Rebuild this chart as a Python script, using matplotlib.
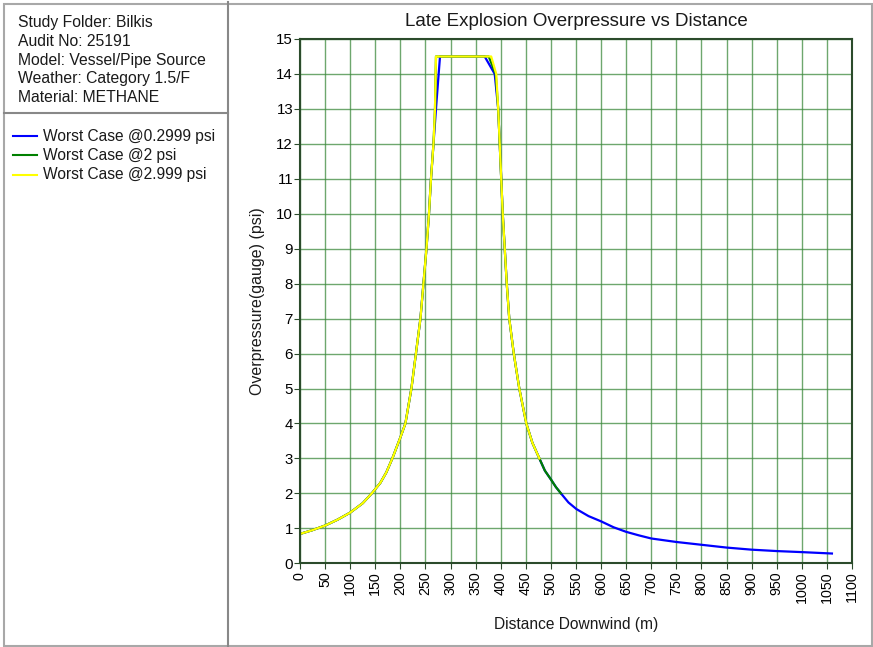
import matplotlib
matplotlib.use("Agg")
import matplotlib.pyplot as plt
from matplotlib.lines import Line2D
from matplotlib.patches import Rectangle

plt.rcParams['font.family'] = ['Liberation Sans', 'DejaVu Sans']

# shared rising flank (m, psi)
rise_x = [0, 25, 50, 75, 100, 125, 143, 160, 172, 184, 200, 210, 222, 231, 240, 246, 252, 257, 261, 266]
rise_y = [0.84, 0.95, 1.08, 1.25, 1.45, 1.72, 2.0, 2.3, 2.6, 3.0, 3.6, 4.0, 5.0, 6.0, 7.0, 8.0, 9.0, 10.0, 11.0, 12.0]

# plateau for each case
top_blue_x = [272, 279, 368, 388]
top_blue_y = [13.2, 14.5, 14.5, 14.0]
top_green_x = [269, 271, 376, 390]
top_green_y = [13.0, 14.5, 14.5, 14.0]
top_yellow_x = [269, 271, 381, 391]
top_yellow_y = [13.0, 14.5, 14.5, 14.0]

# shared falling flank
fall_x = [395, 398, 401, 404, 408, 412, 417, 426, 437, 451, 463, 477]
fall_y = [13.0, 12.0, 11.0, 10.0, 9.0, 8.0, 7.0, 6.0, 5.0, 4.0, 3.45, 3.0]

# tail beyond 3 psi
tail_x = [488, 500, 510, 520, 535, 551, 575, 600, 625, 650, 675, 700, 725, 750, 800, 850, 900, 950, 1000, 1060]
tail_y = [2.65, 2.4, 2.18, 2.0, 1.74, 1.55, 1.35, 1.2, 1.03, 0.9, 0.8, 0.71, 0.66, 0.61, 0.53, 0.45, 0.39, 0.35, 0.32, 0.28]

blue_x = rise_x + top_blue_x + fall_x + tail_x
blue_y = rise_y + top_blue_y + fall_y + tail_y
green_x = rise_x + top_green_x + fall_x + tail_x[:4]
green_y = rise_y + top_green_y + fall_y + tail_y[:4]
yellow_x = rise_x + top_yellow_x + fall_x
yellow_y = rise_y + top_yellow_y + fall_y

info_lines = ["Study Folder: Bilkis", "Audit No: 25191", "Model: Vessel/Pipe Source",
              "Weather: Category 1.5/F", "Material: METHANE"]
legend_labels = ["Worst Case @0.2999 psi", "Worst Case @2 psi", "Worst Case @2.999 psi"]
colors = ["#0000ff", "#008000", "#ffff00"]

W, H = 873, 647
fig = plt.figure(figsize=(W / 100, H / 100), dpi=100)

def fx(px):
    return px / W

def fy(py):
    return 1 - py / H

# frame and panels
fig.add_artist(Rectangle((fx(4), fy(646)), fx(868), (642) / H, transform=fig.transFigure,
                         fill=False, edgecolor="#a8a8a8", lw=1.5))
fig.add_artist(Line2D([fx(228), fx(228)], [fy(2), fy(646)], transform=fig.transFigure,
                      color="#888888", lw=1.5))
fig.add_artist(Line2D([fx(4), fx(228)], [fy(113), fy(113)], transform=fig.transFigure,
                      color="#888888", lw=1.5))

for i, t in enumerate(info_lines):
    fig.text(fx(18), fy(23 + i * 18.6), t, fontsize=11.3, va="center", ha="left", color="#1a1a1a")

for i, (lab, c) in enumerate(zip(legend_labels, colors)):
    yy = fy(136 + i * 19.5)
    fig.add_artist(Line2D([fx(13), fx(37)], [yy, yy], transform=fig.transFigure, color=c, lw=1.5))
    fig.text(fx(43), yy, lab, fontsize=11.2, va="center", ha="left", color="#1a1a1a")

ax = fig.add_axes([fx(300), fy(563.3), fx(852 - 300), (563.3 - 39) / H])

ax.plot(blue_x, blue_y, color=colors[0], lw=1.6)
ax.plot(green_x, green_y, color=colors[1], lw=1.6)
ax.plot(yellow_x, yellow_y, color=colors[2], lw=1.6)

ax.set_xlim(0, 1100)
ax.set_ylim(0, 15)
ax.set_xticks(range(0, 1101, 50))
ax.set_yticks(range(0, 16))
ax.tick_params(axis="x", labelrotation=90, labelsize=10.3, length=4, pad=2, color="#2b4b2b")
ax.tick_params(axis="y", labelsize=10.8, length=4, pad=1, color="#2b4b2b")
ax.grid(True, color="#3d8a3d", lw=1.0, alpha=0.75)
ax.set_axisbelow(True)
for s in ax.spines.values():
    s.set_color("#2b4b2b")
    s.set_linewidth(1.5)

ax.set_title("Late Explosion Overpressure vs Distance", fontsize=13.5, pad=9, color="#1a1a1a")
ax.set_xlabel("Distance Downwind (m)", fontsize=11.2, labelpad=10, color="#1a1a1a")
ax.set_ylabel("Overpressure(gauge) (psi)", fontsize=11.5, labelpad=8, color="#1a1a1a")

fig.savefig("out.png", dpi=100)
